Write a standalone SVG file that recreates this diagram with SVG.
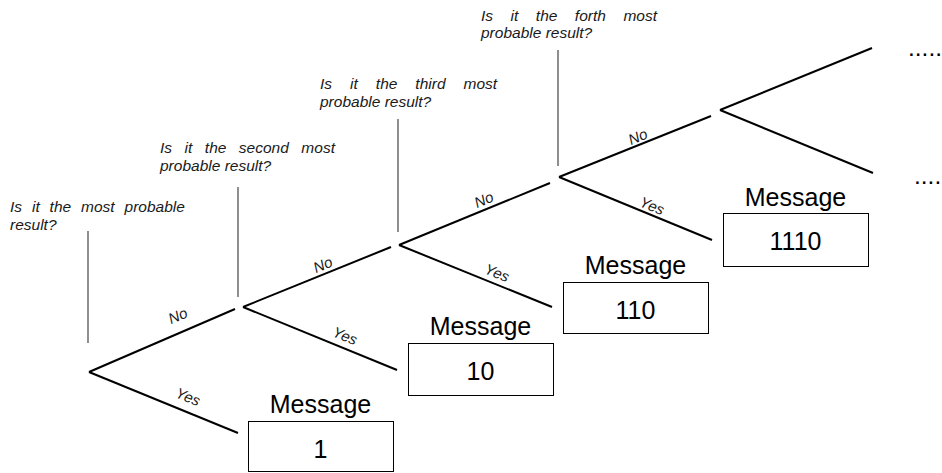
<svg xmlns="http://www.w3.org/2000/svg" width="942" height="473" viewBox="0 0 942 473">
  <style>
    .branch { stroke: #000; stroke-width: 2; fill: none; stroke-linecap: butt; }
    .stem { stroke: #444; stroke-width: 1.2; fill: none; }
    .box { fill: #fff; stroke: #000; stroke-width: 1; }
    .q { font-family: "Liberation Sans", Arial, sans-serif; font-style: italic; font-size: 15.5px; fill: #1a1a1a; }
    .lbl { font-family: "Liberation Sans", Arial, sans-serif; font-style: italic; font-size: 15px; fill: #1a1a1a; text-anchor: middle; }
    .msg { font-family: "Liberation Sans", Arial, sans-serif; font-size: 25px; fill: #000; text-anchor: middle; }
    .dots { font-family: "Liberation Sans", Arial, sans-serif; font-size: 24.5px; fill: #000; }
  </style>

  <!-- decision points: question text (justified first line) and its stem -->
  <g id="question-1">
    <text class="q" x="10" y="212" word-spacing="5.6">Is it the most probable</text>
    <text class="q" x="10" y="230">result?</text>
    <line class="stem" x1="88" y1="231" x2="88" y2="343"/>
  </g>
  <g id="question-2">
    <text class="q" x="160" y="153" word-spacing="8.2">Is it the second most</text>
    <text class="q" x="160" y="171">probable result?</text>
    <line class="stem" x1="238" y1="187" x2="238" y2="297"/>
  </g>
  <g id="question-3">
    <text class="q" x="320" y="89" word-spacing="13.7">Is it the third most</text>
    <text class="q" x="320" y="107">probable result?</text>
    <line class="stem" x1="398" y1="119" x2="398" y2="232"/>
  </g>
  <g id="question-4">
    <text class="q" x="481" y="21" word-spacing="13.2">Is it the forth most</text>
    <text class="q" x="481" y="38">probable result?</text>
    <line class="stem" x1="558" y1="50" x2="558" y2="166"/>
  </g>

  <!-- outcome messages -->
  <g id="message-1">
    <text class="msg" x="320.5" y="413">Message</text>
    <rect class="box" x="248.5" y="421.5" width="145" height="50"/>
    <text class="msg" x="320.5" y="458">1</text>
  </g>
  <g id="message-10">
    <text class="msg" x="480.5" y="335">Message</text>
    <rect class="box" x="408.5" y="343.5" width="145" height="52"/>
    <text class="msg" x="480.5" y="380">10</text>
  </g>
  <g id="message-110">
    <text class="msg" x="635.5" y="274">Message</text>
    <rect class="box" x="563.5" y="282.5" width="145" height="51"/>
    <text class="msg" x="635.5" y="319">110</text>
  </g>
  <g id="message-1110">
    <text class="msg" x="795.5" y="206">Message</text>
    <rect class="box" x="723.5" y="213.5" width="145" height="53"/>
    <text class="msg" x="795.5" y="250">1110</text>
  </g>

  <!-- continuation -->
  <g id="more-upper"><text class="dots" x="908" y="56">.....</text></g>
  <g id="more-lower"><text class="dots" x="914" y="184">....</text></g>

  <!-- branches -->
  <g id="connectors">
    <line class="branch" x1="89" y1="372" x2="235" y2="309"/>
    <line class="branch" x1="89" y1="372" x2="238" y2="433"/>
    <line class="branch" x1="243" y1="307" x2="391" y2="247"/>
    <line class="branch" x1="243" y1="307" x2="397" y2="370"/>
    <line class="branch" x1="399" y1="245" x2="550" y2="183"/>
    <line class="branch" x1="399" y1="245" x2="552" y2="307"/>
    <line class="branch" x1="559" y1="177" x2="711" y2="116"/>
    <line class="branch" x1="559" y1="177" x2="712" y2="240"/>
    <line class="branch" x1="720" y1="110" x2="872" y2="48"/>
    <line class="branch" x1="720" y1="110" x2="873" y2="173"/>

    <text class="lbl" transform="translate(178 316) rotate(-23)" y="5">No</text>
    <text class="lbl" transform="translate(188 397) rotate(22)" y="5">Yes</text>
    <text class="lbl" transform="translate(323 265) rotate(-23)" y="5">No</text>
    <text class="lbl" transform="translate(345 336) rotate(22)" y="5">Yes</text>
    <text class="lbl" transform="translate(484 200) rotate(-23)" y="5">No</text>
    <text class="lbl" transform="translate(497 273) rotate(22)" y="5">Yes</text>
    <text class="lbl" transform="translate(638 137) rotate(-23)" y="5">No</text>
    <text class="lbl" transform="translate(652 206) rotate(22)" y="5">Yes</text>
  </g>
</svg>
